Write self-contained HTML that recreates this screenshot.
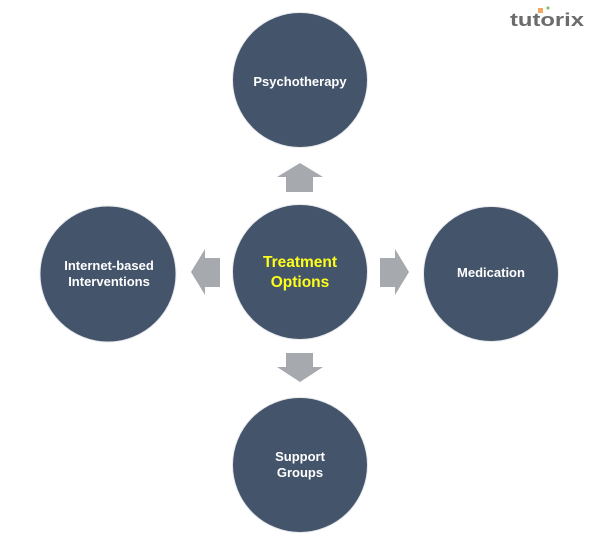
<!DOCTYPE html>
<html><head><meta charset="utf-8"><style>
html,body{margin:0;padding:0;background:#fff;}
svg{display:block;}
</style></head><body>
<svg width="600" height="542" viewBox="0 0 600 542" xmlns="http://www.w3.org/2000/svg">
<rect width="600" height="542" fill="#fff"/>
<!-- logo -->
<text x="510" y="26" font-family="Liberation Sans, sans-serif" font-weight="bold" font-size="18" fill="#6b6b6b" textLength="74" lengthAdjust="spacingAndGlyphs">tutorix</text>
<rect x="538" y="8" width="5" height="5" fill="#f2a860"/>
<circle cx="548" cy="8" r="1.5" fill="#7cc24a"/>
<!-- circles -->
<g fill="#44546a" stroke="#e6e8ec" stroke-width="1">
<circle cx="300" cy="80" r="67.5"/>
<circle cx="300" cy="272" r="67.5"/>
<circle cx="108" cy="274" r="68"/>
<circle cx="491" cy="274" r="67.5"/>
<circle cx="300" cy="465" r="67.5"/>
</g>
<!-- arrows -->
<g fill="#a6a9ae">
<polygon points="300,163 323,177 313,177 313,192 286,192 286,177 277,177"/>
<polygon points="300,382 323,367 313,367 313,353 286,353 286,367 277,367"/>
<polygon points="191,272 205,249 205,258 220,258 220,287 205,287 205,295"/>
<polygon points="409,272 395,249 395,258 380,258 380,287 395,287 395,295"/>
</g>
<!-- labels -->
<g font-family="Liberation Sans, sans-serif" font-weight="bold" font-size="13" fill="#fff" text-anchor="middle">
<text x="300" y="86">Psychotherapy</text>
<text x="109" y="270">Internet-based</text>
<text x="109" y="286">Interventions</text>
<text x="491" y="277">Medication</text>
<text x="300" y="461">Support</text>
<text x="300" y="477">Groups</text>
</g>
<g font-family="Liberation Sans, sans-serif" font-weight="bold" font-size="15.5" fill="#ffff1a" text-anchor="middle">
<text x="300" y="267">Treatment</text>
<text x="300" y="287">Options</text>
</g>
</svg>
</body></html>
